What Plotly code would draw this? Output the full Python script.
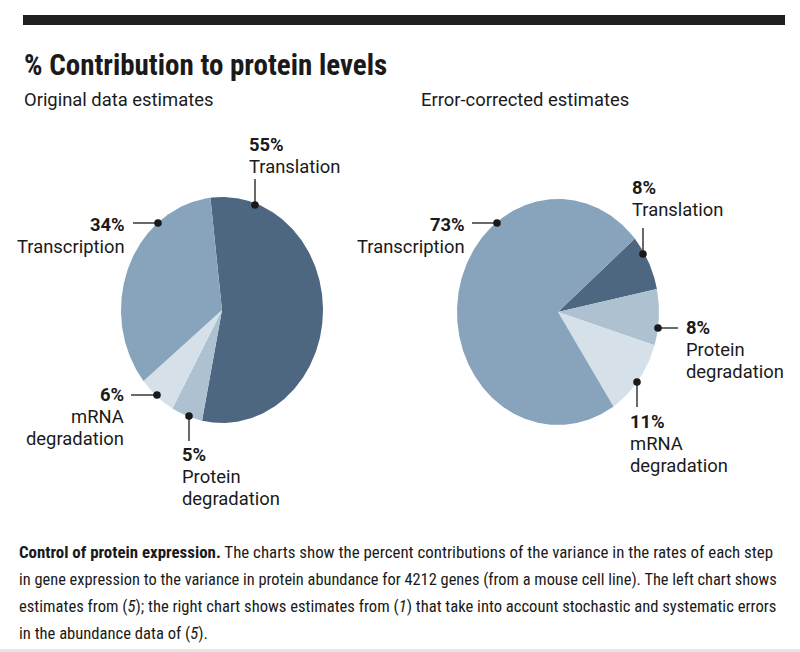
import numpy as np
import plotly.graph_objects as go

# ---------------- data ----------------
steps = ["Translation", "Protein degradation", "mRNA degradation", "Transcription"]
original_pct = [55, 5, 6, 34]
corrected_pct = [8, 8, 11, 73]
step_colors = ["#4d6781", "#adc1d1", "#d5e0e9", "#87a4bc"]

title = "% Contribution to protein levels"
subtitles = ["Original data estimates", "Error-corrected estimates"]
caption_lines = [
    "<b>Control of protein expression.</b> The charts show the percent contributions of the variance in the rates of each step",
    "in gene expression to the variance in protein abundance for 4212 genes (from a mouse cell line). The left chart shows",
    "estimates from (<i>5</i>); the right chart shows estimates from (<i>1</i>) that take into account stochastic and systematic errors",
    "in the abundance data of (<i>5</i>).",
]

# ---------------- layout helpers ----------------
W, H = 800, 652
def px(x):
    return x / W
def py(y):
    return 1 - y / H

TXT = "#1a1a1a"
LABEL_FONT = "Roboto, Liberation Sans, sans-serif"
COND_FONT = "Roboto Condensed, Liberation Sans Narrow, sans-serif"
LFS = 18.4     # label font size
LINE_GAP = 22  # label line spacing
CAPTION_SIZES = [16.9, 16.4, 16.6, 16.6]  # per-line sizes so each line spans like the original

fig = go.Figure()

# pie geometry (pixel boxes of the elliptical pies) and start angle (deg clockwise from 12 o'clock)
pies = [
    dict(values=original_pct, box=(121, 323, 197, 423), start=-6.6, ax=""),
    dict(values=corrected_pct, box=(457, 659, 199, 425), start=49.5, ax="2"),
]

for p in pies:
    vals = np.array(p["values"], dtype=float)
    cum = np.concatenate([[0], np.cumsum(vals) / vals.sum()])
    for i, step in enumerate(steps):
        a0 = p["start"] + 360 * cum[i]
        a1 = p["start"] + 360 * cum[i + 1]
        n = max(8, int((a1 - a0) * 1.5))
        th = np.radians(np.linspace(a0, a1, n))
        xs = np.concatenate([[0], np.sin(th), [0]])
        ys = np.concatenate([[0], np.cos(th), [0]])
        fig.add_trace(go.Scatter(
            x=xs, y=ys, mode="lines", fill="toself",
            fillcolor=step_colors[i], line=dict(width=0, color=step_colors[i]),
            hoverinfo="text", text=f"{step}: {p['values'][i]}%", showlegend=False,
            xaxis="x" + p["ax"], yaxis="y" + p["ax"],
        ))

x0, x1, y0, y1 = pies[0]["box"]
X0, X1, Y0, Y1 = pies[1]["box"]
axis_common = dict(range=[-1, 1], visible=False, fixedrange=True)
fig.update_layout(
    xaxis=dict(domain=[px(x0), px(x1)], **axis_common),
    yaxis=dict(domain=[py(y1), py(y0)], **axis_common),
    xaxis2=dict(domain=[px(X0), px(X1)], anchor="y2", **axis_common),
    yaxis2=dict(domain=[py(Y1), py(Y0)], anchor="x2", **axis_common),
)

# ---------------- labels ----------------
# per pie: step -> (align, x, pct baseline, leader (xa, ya, xb, yb), dot (x, y))
label_layout = [
    {
        "Translation": ("left", 247, 151, (255, 179, 255, 205), (255, 205)),
        "Transcription": ("right", 127, 231, (133, 223, 158, 223), (158, 223)),
        "mRNA degradation": ("right", 126, 401, (131, 395, 157, 395), (157, 395)),
        "Protein degradation": ("left", 180, 461, (189, 416, 189, 441), (189, 416)),
    },
    {
        "Transcription": ("right", 467, 231, (472, 223, 497, 223), (497, 223)),
        "Translation": ("left", 630, 194, (643, 228, 643, 254), (643, 254)),
        "Protein degradation": ("left", 684, 334, (658, 328, 678, 328), (658, 328)),
        "mRNA degradation": ("left", 628, 428, (637, 382, 637, 407), (637, 382)),
    },
]

BASE_OFF = 0.33 * LFS  # baseline -> middle of text box

shapes = []
annotations = []

def add_text(x, baseline, text, align, size=LFS, family=LABEL_FONT, off=None):
    off = BASE_OFF if off is None else off
    annotations.append(dict(
        x=px(x), y=py(baseline - off), xref="paper", yref="paper",
        xanchor=align, yanchor="middle", showarrow=False, text=text,
        font=dict(family=family, size=size, color=TXT), align=align,
    ))

for p, lay in zip(pies, label_layout):
    for i, step in enumerate(steps):
        align, x, base, ln, dot = lay[step]
        add_text(x, base, f"<b>{p['values'][i]}%</b>", align)
        for k, word in enumerate(step.split(" ")):
            add_text(x, base + LINE_GAP * (k + 1), word, align)
        shapes.append(dict(type="line", xref="paper", yref="paper",
                           x0=px(ln[0]), y0=py(ln[1]), x1=px(ln[2]), y1=py(ln[3]),
                           line=dict(color=TXT, width=1.3)))
        r = 3.8
        shapes.append(dict(type="circle", xref="paper", yref="paper",
                           x0=px(dot[0] - r), x1=px(dot[0] + r), y0=py(dot[1] + r), y1=py(dot[1] - r),
                           fillcolor=TXT, line=dict(width=0)))

# title, subtitles
add_text(22, 75, f"<b>{title}</b>", "left", size=29, family=COND_FONT, off=0.33 * 29)
add_text(22, 106, subtitles[0], "left")
add_text(419, 106, subtitles[1], "left")

# caption
for k, line in enumerate(caption_lines):
    s = CAPTION_SIZES[k]
    add_text(17, 558 + 27 * k, line, "left", size=s, family=COND_FONT, off=0.33 * s)

# top rule and bottom border
shapes.append(dict(type="rect", xref="paper", yref="paper", x0=px(23), x1=px(785), y0=py(25), y1=py(15),
                   fillcolor="#202020", line=dict(width=0)))
shapes.append(dict(type="rect", xref="paper", yref="paper", x0=0, x1=1, y0=0, y1=py(649),
                   fillcolor="#e6e6e6", line=dict(width=0)))

fig.update_layout(
    width=W, height=H, margin=dict(l=0, r=0, t=0, b=0),
    paper_bgcolor="white", plot_bgcolor="white",
    shapes=shapes, annotations=annotations, showlegend=False,
)

fig.write_html("out.html", config={"displayModeBar": False},
               post_script="document.body.style.margin='0';document.body.style.overflow='hidden';")
